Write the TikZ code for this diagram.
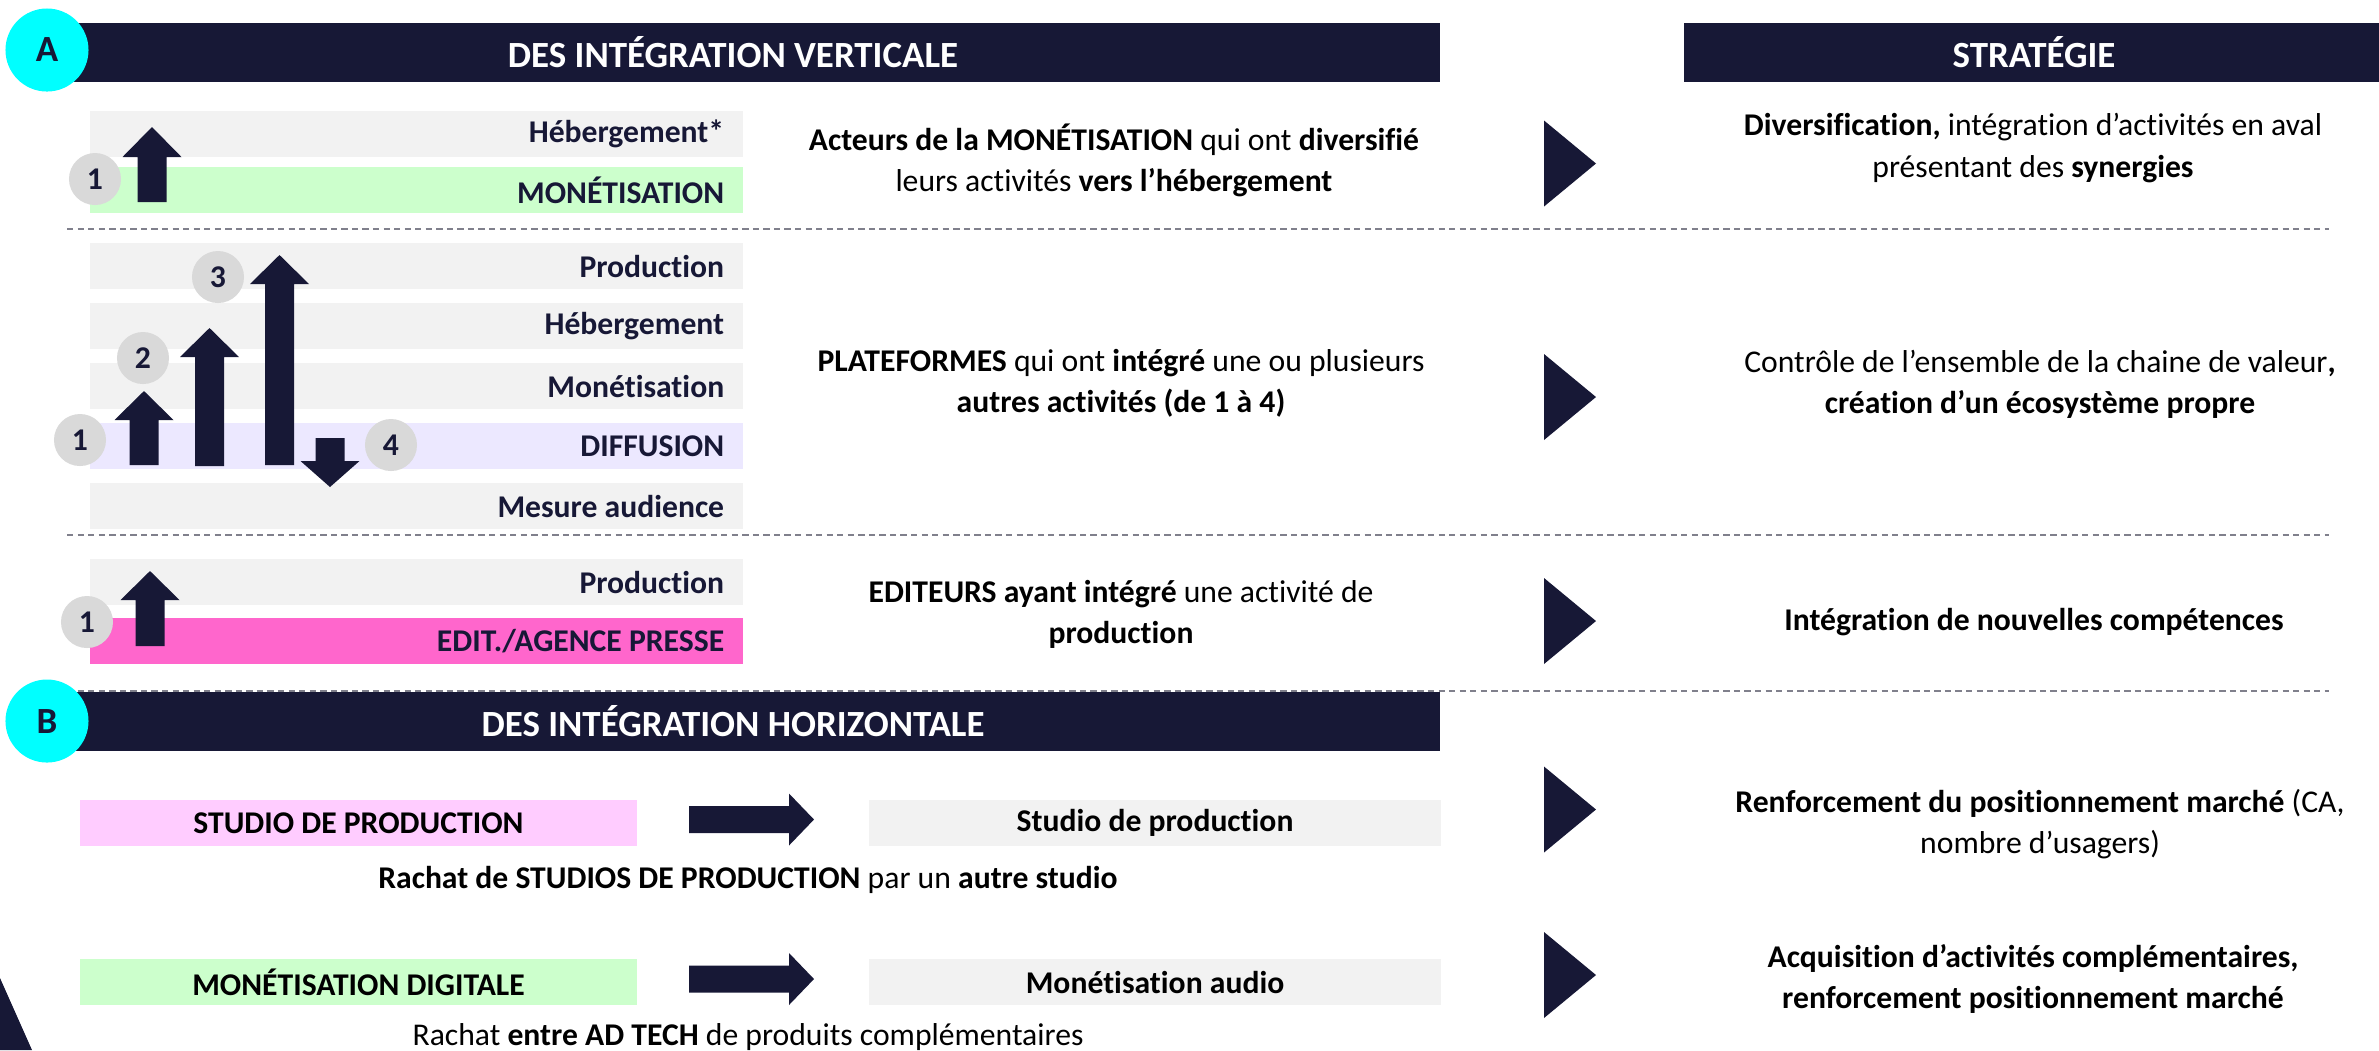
\documentclass[tikz,border=0pt]{standalone}
\usepackage{fontspec}
\setmainfont{Carlito}[Ligatures={TeX,NoCommon}]
\definecolor{navy}{HTML}{171836}
\definecolor{grayrow}{HTML}{F2F2F2}
\definecolor{greenrow}{HTML}{CCFFCC}
\definecolor{lavrow}{HTML}{ECE8FF}
\definecolor{pinkrow}{HTML}{FF66CC}
\definecolor{lpinkrow}{HTML}{FFCCFF}
\definecolor{numgray}{HTML}{D9D9D9}
\definecolor{cyanc}{HTML}{00FFFF}
\definecolor{dashgray}{HTML}{80808C}
\newcommand{\blockarrowv}[4]{% cx, base, headbase, tip
  \fill[navy] ({#1-14.5},#2) -- ({#1-14.5},#3) -- ({#1-29.5},#3) -- (#1,#4) -- ({#1+29.5},#3) -- ({#1+14.5},#3) -- ({#1+14.5},#2) -- cycle;}
\newcommand{\blockarrowh}[4]{% cy, start, headbase, tip
  \fill[navy] (#2,{#1-13.5}) -- (#3,{#1-13.5}) -- (#3,{#1-26}) -- (#4,#1) -- (#3,{#1+26}) -- (#3,{#1+13.5}) -- (#2,{#1+13.5}) -- cycle;}
\newcommand{\sidetri}[1]{%
  \fill[navy] (1544,{#1-43}) -- (1596,#1) -- (1544,{#1+43}) -- cycle;}
\newcommand{\rowlabel}[4]{% name, y, colour, text
  \node[rowbox, fill=#3] (#1) at (416.5,#2) {};
  \node[rowtxt, anchor=east] (#1t) at ([xshift=-0.19cm]#1.east) {#4};}
\begin{document}
\begin{tikzpicture}[x=0.01cm,y=-0.01cm,
  every node/.style={font=\fontsize{9}{11.7}\selectfont},
  rowbox/.style={rectangle, minimum width=6.53cm, minimum height=0.46cm, inner sep=0pt},
  rowtxt/.style={inner sep=0pt, font=\fontsize{9}{11.7}\selectfont\bfseries, text=navy},
  bbox/.style={rectangle, minimum height=0.46cm, inner sep=0pt, align=center,
    font=\fontsize{9}{11.7}\selectfont\bfseries, text=black},
  hdrbar/.style={rectangle, fill=navy, minimum height=0.59cm, inner sep=0pt},
  hdrtxt/.style={text=white, font=\fontsize{10.5}{12}\selectfont\bfseries, inner sep=0pt},
  numc/.style={circle, fill=numgray, minimum size=0.52cm, inner sep=0pt, text=navy,
    font=\fontsize{9}{11}\selectfont\bfseries},
  letc/.style={circle, fill=cyanc, minimum size=0.83cm, inner sep=0pt, text=navy,
    font=\fontsize{10.5}{12}\selectfont\bfseries},
  body/.style={align=center, inner sep=0pt, text=black},
  sep/.style={draw=dashgray, line width=0.45pt, dash pattern=on 1.8pt off 1.2pt}
]
\useasboundingbox (0,0) rectangle (2379,1050);

% dashed separators
\coordinate (d1a) at (67,229);  \coordinate (d1b) at (2329,229);
\coordinate (d2a) at (67,535);  \coordinate (d2b) at (2329,535);
\coordinate (d3a) at (67,691);  \coordinate (d3b) at (2329,691);
\draw[sep] (d1a) -- (d1b);
\draw[sep] (d2a) -- (d2b);
\draw[sep] (d3a) -- (d3b);

% headers
\node[hdrbar, minimum width=13.79cm] (barA) at (750.5,52.5) {};
\node[hdrtxt] (tA) at (733,52) {DES INTÉGRATION VERTICALE};
\node[hdrbar, minimum width=6.95cm] (barS) at (2031.5,52.5) {};
\node[hdrtxt] (tS) at (2034,52) {STRATÉGIE};
\node[hdrbar, minimum width=13.79cm] (barB) at (750.5,721) {};
\node[hdrtxt] (tB) at (733,721) {DES INTÉGRATION HORIZONTALE};
\node[letc] (cA) at (47,50) {A};
\node[letc] (cB) at (47,721) {B};

% section 1
\rowlabel{r1a}{134}{grayrow}{Hébergement*}
\rowlabel{r1b}{190}{greenrow}{MONÉTISATION}
\blockarrowv{152}{202}{157}{127}
\node[numc] (n1a) at (95,179) {1};

% section 2
\rowlabel{r2a}{266}{grayrow}{Production}
\rowlabel{r2b}{326}{grayrow}{Hébergement}
\rowlabel{r2c}{386}{grayrow}{Monétisation}
\rowlabel{r2d}{446}{lavrow}{DIFFUSION}
\rowlabel{r2e}{506}{grayrow}{Mesure audience}
\blockarrowv{144}{465}{420}{391}
\blockarrowv{209.5}{466}{357}{328}
\blockarrowv{279.5}{465}{284}{255}
\blockarrowv{330}{438}{461}{487}
\node[numc] (n2a) at (80,440) {1};
\node[numc] (n2b) at (143,358) {2};
\node[numc] (n2c) at (218,277) {3};
\node[numc] (n2d) at (391,445) {4};

% section 3
\rowlabel{r3a}{582}{grayrow}{Production}
\rowlabel{r3b}{641}{pinkrow}{EDIT./AGENCE PRESSE}
\blockarrowv{150}{646}{600}{571}
\node[numc] (n3a) at (87,622) {1};

% middle texts
\node[body] (m1) at (1114,160) {\textbf{Acteurs de la MONÉTISATION} qui ont \textbf{diversifié}\\leurs activités \textbf{vers l’hébergement}};
\node[body] (m2) at (1121,383) {\textbf{PLATEFORMES} qui ont \textbf{intégré} une ou plusieurs\\\textbf{autres activités (de 1 à 4)}};
\node[body] (m3) at (1121,614) {\textbf{EDITEURS ayant intégré} une activité de\\\textbf{production}};

% triangles
\sidetri{163.5}
\sidetri{397}
\sidetri{621}
\sidetri{809.5}
\sidetri{975}

% strategy texts
\node[body] (s1) at (2033,148) {\textbf{Diversification,} intégration d’activités en aval\\présentant des \textbf{synergies}};
\node[body] (s2) at (2040,384) {Contrôle de l’ensemble de la chaine de valeur\textbf{,}\\\textbf{création d’un écosystème propre}};
\node[body] (s3) at (2034,622) {\textbf{Intégration de nouvelles compétences}};
\node[body] (s4) at (2040,824) {\textbf{Renforcement du positionnement marché} (CA,\\nombre d’usagers)};
\node[body] (s5) at (2033,979) {\textbf{Acquisition d’activités complémentaires,}\\\textbf{renforcement positionnement marché}};

% section B
\node[bbox, fill=lpinkrow, minimum width=5.57cm] (b1l) at (358.5,823) {STUDIO DE PRODUCTION};
\blockarrowh{819.5}{689}{789}{814}
\node[bbox, fill=grayrow, minimum width=5.72cm] (b1r) at (1155,823) {Studio de production};
\node[body] (b1t) at (748,880) {\textbf{Rachat de STUDIOS DE PRODUCTION} par un \textbf{autre studio}};

\node[bbox, fill=greenrow, minimum width=5.57cm] (b2l) at (358.5,982) {MONÉTISATION DIGITALE};
\blockarrowh{979}{689}{789}{814}
\node[bbox, fill=grayrow, minimum width=5.72cm] (b2r) at (1155,982) {Monétisation audio};
\node[body] (b2t) at (748,1037) {Rachat \textbf{entre AD TECH} de produits complémentaires};

% corner shape
\fill[navy] (0,978) -- (32,1050) -- (0,1050) -- cycle;
\end{tikzpicture}
\end{document}
